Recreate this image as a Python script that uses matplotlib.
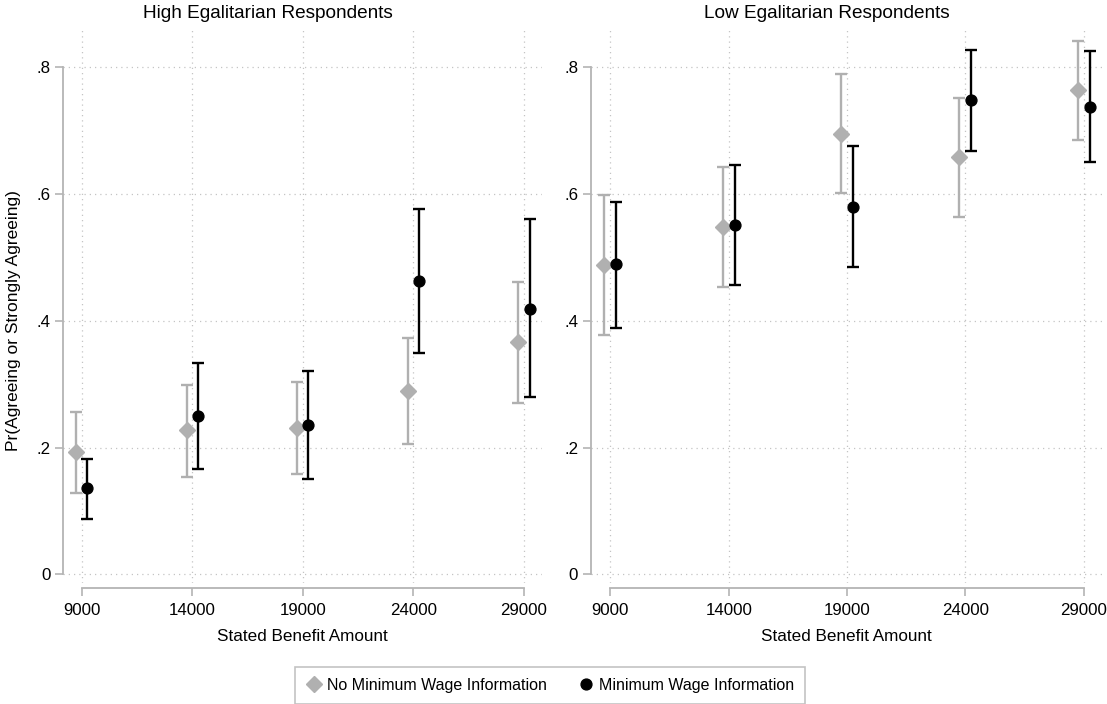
import numpy as np
import matplotlib
matplotlib.use("Agg")
import matplotlib.pyplot as plt
from matplotlib.lines import Line2D

plt.rcParams['font.family'] = ['Liberation Sans', 'DejaVu Sans']

# Data
amounts = [9000, 14000, 19000, 24000, 29000]

high_noinfo = [0.193, 0.227, 0.231, 0.289, 0.367]
high_noinfo_lo = [0.129, 0.154, 0.159, 0.206, 0.271]
high_noinfo_hi = [0.256, 0.299, 0.303, 0.373, 0.462]
high_info = [0.136, 0.250, 0.236, 0.463, 0.419]
high_info_lo = [0.088, 0.166, 0.150, 0.349, 0.279]
high_info_hi = [0.182, 0.334, 0.321, 0.576, 0.560]

low_noinfo = [0.488, 0.548, 0.695, 0.658, 0.764]
low_noinfo_lo = [0.377, 0.454, 0.602, 0.564, 0.686]
low_noinfo_hi = [0.598, 0.642, 0.789, 0.752, 0.842]
low_info = [0.489, 0.551, 0.580, 0.748, 0.737]
low_info_lo = [0.389, 0.456, 0.485, 0.668, 0.650]
low_info_hi = [0.588, 0.646, 0.676, 0.828, 0.825]

titles = ["High Egalitarian Respondents", "Low Egalitarian Respondents"]
series_names = ["No Minimum Wage Information", "Minimum Wage Information"]
yticks = [0, 0.2, 0.4, 0.6, 0.8]
ytick_labels = ["0", ".2", ".4", ".6", ".8"]

gray = '#b0b0b0'
axis_gray = '#b4b4b4'
grid_gray = '#c4c4c4'
dodge = 250

W, H = 1107, 704
fig = plt.figure(figsize=(W / 100, H / 100), dpi=100)


def add_axes_px(x0, x1, y0, y1):
    return fig.add_axes([x0 / W, 1 - y1 / H, (x1 - x0) / W, (y1 - y0) / H])


ax_left = add_axes_px(63.3, 541.7, 29.3, 583.3)
ax_right = add_axes_px(590.7, 1102.7, 29.3, 583.3)

panels = [
    (ax_left, high_noinfo, high_noinfo_lo, high_noinfo_hi, high_info, high_info_lo, high_info_hi),
    (ax_right, low_noinfo, low_noinfo_lo, low_noinfo_hi, low_info, low_info_lo, low_info_hi),
]

x = np.array(amounts)
for ax, y0, lo0, hi0, y1, lo1, hi1 in panels:
    y0, lo0, hi0 = np.array(y0), np.array(lo0), np.array(hi0)
    y1, lo1, hi1 = np.array(y1), np.array(lo1), np.array(hi1)

    # no info (gray diamonds) left of the tick, info (black dots) right of it
    ax.errorbar(x - dodge, y0, yerr=[y0 - lo0, hi0 - y0], fmt='D', color=gray,
                ms=8, capsize=4, elinewidth=1.7, capthick=1.7, zorder=3)
    ax.errorbar(x + dodge, y1, yerr=[y1 - lo1, hi1 - y1], fmt='o', color='black',
                ms=7.8, capsize=4, elinewidth=1.7, capthick=1.7, zorder=4)

    ax.set_xlim(8170, 29800)
    ax.set_ylim(-0.0142, 0.86)
    ax.set_xticks(amounts)
    ax.set_xticklabels([str(a) for a in amounts])
    ax.set_yticks(yticks)
    ax.set_yticklabels(ytick_labels)

    ax.grid(True, color=grid_gray, linestyle=(0, (1, 3.2)), linewidth=0.9)
    ax.set_axisbelow(True)

    for side in ['top', 'right']:
        ax.spines[side].set_visible(False)
    ax.spines['left'].set_bounds(0, 0.8)
    ax.spines['bottom'].set_bounds(9000, 29000)
    ax.spines['bottom'].set_position(('outward', 3.6))
    for side in ['left', 'bottom']:
        ax.spines[side].set_color(axis_gray)
        ax.spines[side].set_linewidth(1.3)

    ax.tick_params(axis='both', color=axis_gray, length=6, width=1.2,
                   labelsize=12.2, labelcolor='black')
    ax.tick_params(axis='x', pad=4.5)
    ax.tick_params(axis='y', pad=3)
    ax.set_xlabel("Stated Benefit Amount", fontsize=12.3, labelpad=8)

# Panel titles
fig.text(268 / W, 1 - 14 / H, titles[0], ha='center', va='center', fontsize=13.7)
fig.text(827 / W, 1 - 14 / H, titles[1], ha='center', va='center', fontsize=13.7)

# y axis title
fig.text(14 / W, 1 - 321 / H, "Pr(Agreeing or Strongly Agreeing)", rotation=90,
         ha='center', va='center', fontsize=12.5)

# Legend
handles = [
    Line2D([], [], marker='D', color=gray, linestyle='none', ms=8),
    Line2D([], [], marker='o', color='black', linestyle='none', ms=7.8),
]
leg = fig.legend(handles, series_names, loc='upper center', ncol=2,
                 bbox_to_anchor=(550 / W, 1 - 666.7 / H), fontsize=11.5,
                 frameon=True, fancybox=False, edgecolor=axis_gray,
                 handlelength=1.0, handletextpad=0.3, columnspacing=2.0,
                 borderpad=0.7, borderaxespad=0)
leg.get_frame().set_linewidth(1.2)

plt.savefig("out.png", dpi=100)
